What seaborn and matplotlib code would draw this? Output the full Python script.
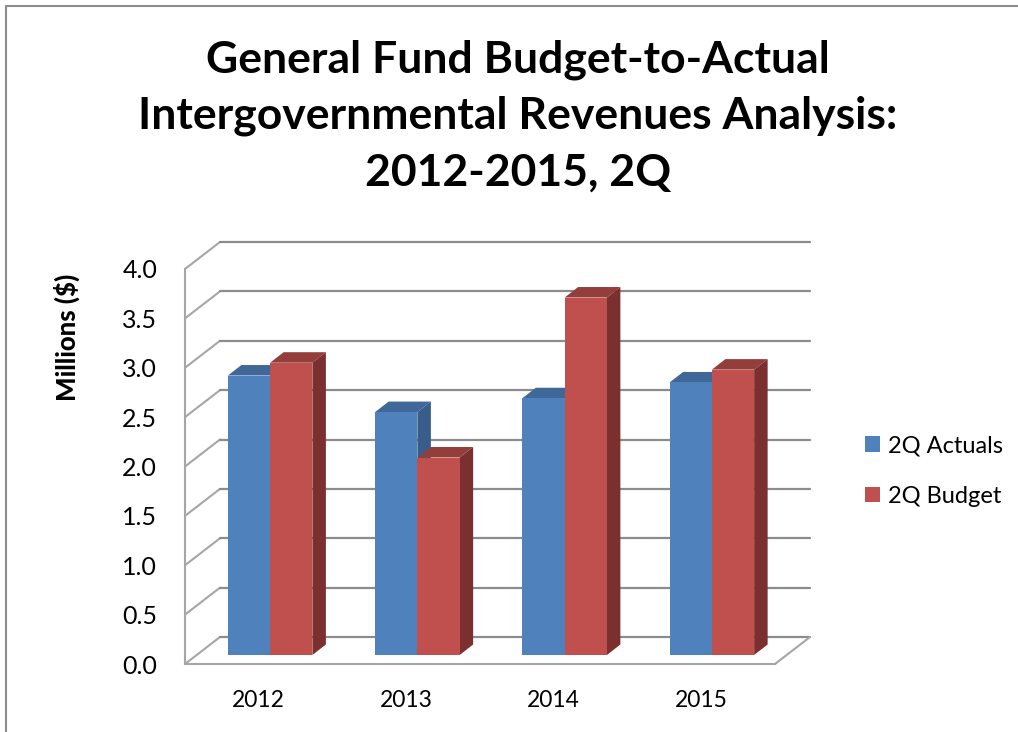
import pandas as pd
import numpy as np
import matplotlib.pyplot as plt
import seaborn as sns
from matplotlib.patches import Polygon

years = ['2012', '2013', '2014', '2015']
actuals = [2.83, 2.46, 2.60, 2.76]
budget = [2.96, 2.00, 3.62, 2.89]
yticks = [0.0, 0.5, 1.0, 1.5, 2.0, 2.5, 3.0, 3.5, 4.0]

W, H = 1018, 732
FONT = ['Lato', 'DejaVu Sans']
sns.set_style('white')
plt.rcParams['font.family'] = FONT
plt.rcParams['text.color'] = 'black'


def px_axes(fig, left, right, top, bottom):
    # axes position given in image pixels
    return fig.add_axes([left / W, 1 - bottom / H, (right - left) / W, (bottom - top) / H])


df = pd.DataFrame({
    'year': years * 2,
    'value': actuals + budget,
    'series': ['2Q Actuals'] * 4 + ['2Q Budget'] * 4,
})

fig = plt.figure(figsize=(W / 100, H / 100), dpi=100)
fig.patch.set_facecolor('white')

# outer chart border, only left and top are visible in the picture
fig.add_artist(plt.Line2D([6 / W, 6 / W, 1], [0, 1 - 6 / H, 1 - 6 / H], color='#8c8c8c', lw=1.5))

# front plane: axis lines and tick labels
ax = px_axes(fig, 185, 775, 269, 664)
ax.set_xlim(-0.5, 3.5)
ax.set_ylim(0, 4)
ax.patch.set_alpha(0)
sns.despine(ax=ax, top=True, right=True)
for s in ['left', 'bottom']:
    ax.spines[s].set_color('#a6a6a6')
    ax.spines[s].set_linewidth(1.5)
ax.set_xticks(range(4))
ax.set_xticklabels(years, fontsize=16.5, color='black')
ax.set_yticks(yticks)
ax.set_yticklabels([f'{v:.1f}' for v in yticks], fontsize=18, color='black')
ax.tick_params(axis='x', length=0, pad=19)
ax.tick_params(axis='y', length=0, pad=20)
ax.set_ylabel('Millions ($)', fontsize=18.5, fontweight='black', color='black')
ax.yaxis.set_label_coords((80 - 185) / 590, (664 - 337) / 395)

# walls: diagonals on the side, gridlines on the back
dx = 35 / 147.5
dy = 27 / 98.75
for v in yticks:
    ax.plot([-0.5, -0.5 + dx], [v, v + dy], color='#a6a6a6', lw=1.5, clip_on=False, zorder=1)
    ax.plot([-0.5 + dx, 3.5 + dx], [v + dy, v + dy], color='#8c8c8c', lw=1.6, clip_on=False, zorder=1)
ax.plot([3.5, 3.5 + dx], [0, dy], color='#a6a6a6', lw=1.5, clip_on=False, zorder=1)

# bars sit a little behind the front plane
bx = px_axes(fig, 196.5, 785.5, 260, 655)
bx.patch.set_alpha(0)
sns.barplot(data=df, x='year', y='value', hue='series', order=years,
            palette=['#4F81BD', '#C0504D'], width=0.574, gap=0, saturation=1,
            edgecolor='none', linewidth=0, ax=bx, zorder=3)
bx.set_xlim(-0.5, 3.5)
bx.set_ylim(0, 4)

# top and side faces of each bar
ddx = 13.5 / 147.25
ddy = 10.5 / 98.75
shades = [('#3F6797', '#385D8A'), ('#943E3B', '#7B302F')]
for i, cont in enumerate(bx.containers):
    top_c, side_c = shades[i]
    for bar in cont:
        x0 = bar.get_x()
        x1 = x0 + bar.get_width()
        h = bar.get_height()
        bx.add_patch(Polygon([(x0, h), (x1, h), (x1 + ddx, h + ddy), (x0 + ddx, h + ddy)],
                             fc=top_c, ec='none', zorder=2 + i / 10, clip_on=False))
        bx.add_patch(Polygon([(x1, 0), (x1 + ddx, ddy), (x1 + ddx, h + ddy), (x1, h)],
                             fc=side_c, ec='none', zorder=2 + i / 10, clip_on=False))

bx.legend(loc='center left', bbox_to_anchor=(865 / W, 1 - 471 / H), bbox_transform=fig.transFigure,
          frameon=False, fontsize=17, handlelength=0.64, handleheight=0.64, handletextpad=0.35,
          labelspacing=1.25, borderpad=0, borderaxespad=0)
bx.set_axis_off()

fig.text(518 / W, 1 - 116 / H,
         'General Fund Budget-to-Actual\nIntergovernmental Revenues Analysis:\n2012-2015, 2Q',
         ha='center', va='center', fontsize=32, fontweight='bold', color='black', linespacing=1.5)

fig.savefig('out.png', dpi=100)
